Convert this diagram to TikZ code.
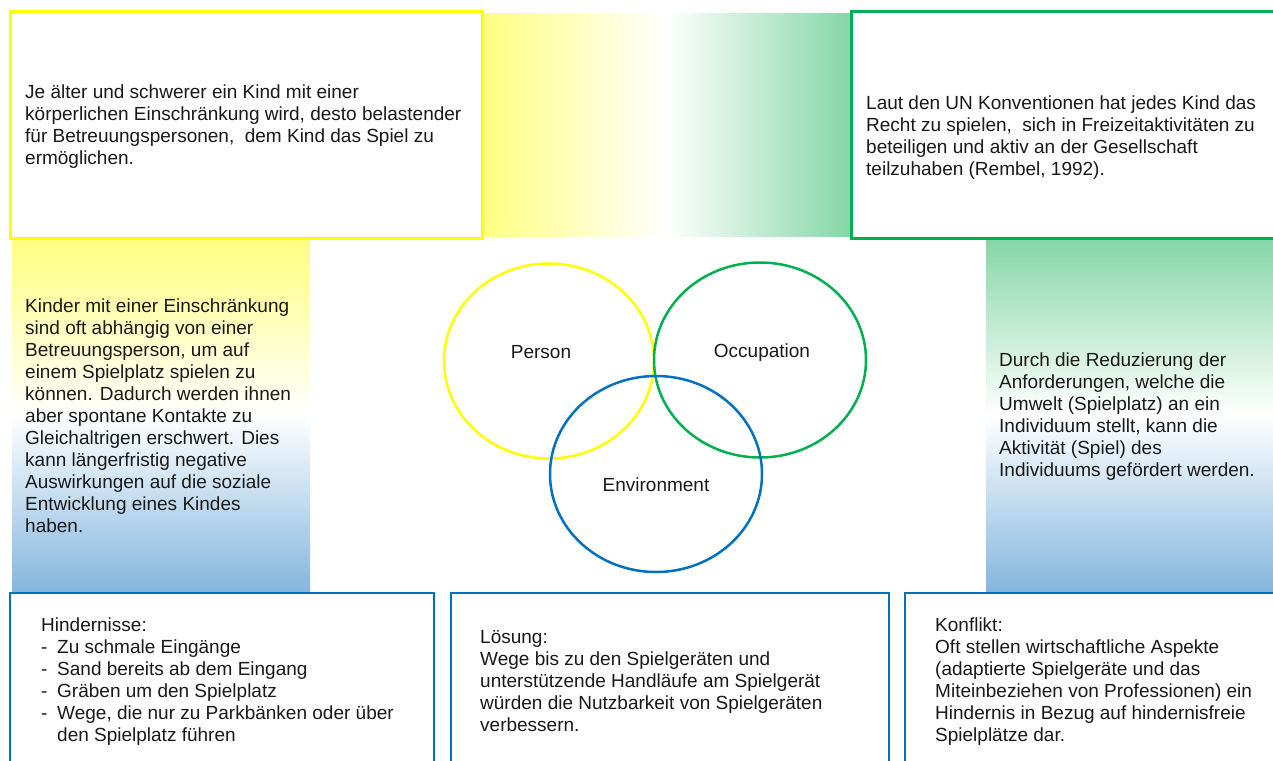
\documentclass[tikz,border=0pt]{standalone}
\usepackage{fontspec}
\setmainfont{Liberation Sans}
\definecolor{ylw}{HTML}{FFFF00}
\definecolor{grn}{HTML}{00B050}
\definecolor{blu}{HTML}{0070C0}
\definecolor{ylwl}{HTML}{FFFF80}
\definecolor{grnl}{HTML}{85D6A6}
\definecolor{blul}{HTML}{84B6DE}
\tikzset{
  txt/.style={anchor=north west, inner sep=0pt, align=left, font=\fontsize{19}{22}\selectfont, text=black!90},
  lbl/.style={inner sep=0pt, font=\fontsize{19}{22}\selectfont, text=black!90},
  ybox/.style={draw=ylw, line width=3pt, fill=white},
  gbox/.style={draw=grn, line width=3pt, fill=white},
  bbox/.style={draw=blu, line width=2.5pt, fill=white},
  ring/.style={line width=2.5pt}
}
\newcommand{\itm}{\makebox[16pt][l]{-}}
\begin{document}
\begin{tikzpicture}[x=1pt,y=-1pt]
\useasboundingbox (0,0) rectangle (1273,760);
\clip (0,0) rectangle (1273,760);
% gradient bands
\shade[left color=ylwl, right color=grnl, middle color=white] (482,14) rectangle (851,236);
\shade[top color=ylwl, bottom color=blul, middle color=white] (12,238) rectangle (310,592);
\shade[top color=grnl, bottom color=blul, middle color=white] (986,238) rectangle (1280,592);
% boxes
\draw[ybox] (10,12) rectangle (482,238);
\draw[gbox] (851,12) rectangle (1290,238);
\draw[bbox] (10,593) rectangle (434,800);
\draw[bbox] (451,593) rectangle (889,800);
\draw[bbox] (905,593) rectangle (1290,800);
% texts
\node[txt] (tl) at (25,83) {\strut Je älter und schwerer ein Kind mit einer\\körperlichen Einschränkung wird, desto belastender\\für Betreuungspersonen,~ dem Kind das Spiel zu\\ermöglichen.};
\node[txt] (tr) at (866,94) {\strut Laut den UN Konventionen hat jedes Kind das\\Recht zu spielen,~ sich in Freizeitaktivitäten zu\\beteiligen und aktiv an der Gesellschaft\\teilzuhaben (Rembel, 1992).};
\node[txt] (lt) at (25,297) {\strut Kinder mit einer Einschränkung\\sind oft abhängig von einer\\Betreuungsperson, um auf\\einem Spielplatz spielen zu\\können. Dadurch werden ihnen\\aber spontane Kontakte zu\\Gleichaltrigen erschwert. Dies\\kann längerfristig negative\\Auswirkungen auf die soziale\\Entwicklung eines Kindes\\haben.};
\node[txt] (rt) at (999,351) {\strut Durch die Reduzierung der\\Anforderungen, welche die\\Umwelt (Spielplatz) an ein\\Individuum stellt, kann die\\Aktivität (Spiel) des\\Individuums gefördert werden.};
\node[txt] (b1) at (41,616) {\strut Hindernisse:\\\itm Zu schmale Eingänge\\\itm Sand bereits ab dem Eingang\\\itm Gräben um den Spielplatz\\\itm Wege, die nur zu Parkbänken oder über\\\hspace*{16pt}den Spielplatz führen};
\node[txt] (b2) at (480,628) {\strut Lösung:\\Wege bis zu den Spielgeräten und\\unterstützende Handläufe am Spielgerät\\würden die Nutzbarkeit von Spielgeräten\\verbessern.};
\node[txt] (b3) at (935,616) {\strut Konflikt:\\Oft stellen wirtschaftliche Aspekte\\(adaptierte Spielgeräte und das\\Miteinbeziehen von Professionen) ein\\Hindernis in Bezug auf hindernisfreie\\Spielplätze dar.};
% venn
\draw[ring, draw=ylw] (549,361) ellipse [x radius=105, y radius=97.5];
\draw[ring, draw=grn] (760,360) ellipse [x radius=106, y radius=97.5];
\draw[ring, draw=blu] (656,474) ellipse [x radius=106, y radius=98];
\node[lbl] (person) at (541,352) {Person};
\node[lbl] (occ) at (762,353) {Occupation};
\node[lbl] (env) at (656,485) {Environment};
\end{tikzpicture}
\end{document}
